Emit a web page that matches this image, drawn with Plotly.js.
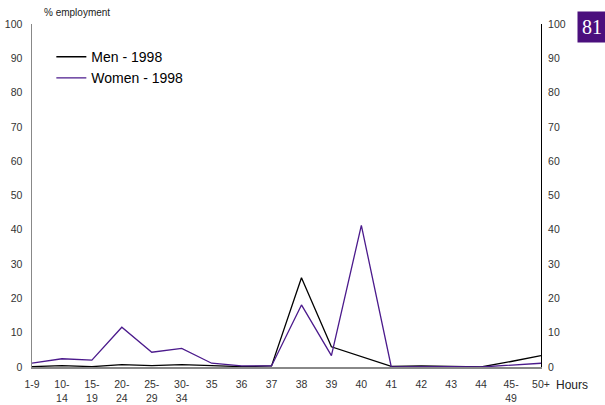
<!DOCTYPE html>
<html><head><meta charset="utf-8">
<script src="https://cdn.plot.ly/plotly-3.0.1.min.js"></script>
<style>html,body{margin:0;padding:0;background:#fff}#chart{width:605px;height:405px}</style>
</head><body><div id="chart"></div>
<script>
const categories = ["1-9","10-14","15-19","20-24","25-29","30-34","35","36","37","38","39","40","41","42","43","44","45-49","50+"];
const tickLabels = ["1-9","10-<br>14","15-<br>19","20-<br>24","25-<br>29","30-<br>34","35","36","37","38","39","40","41","42","43","44","45-<br>49","50+"];
const men1998 =   [0.1,0.4,0.1,0.7,0.4,0.7,0.4,0.1,0.3,26,5.9,3.0,0.2,0.3,0.2,0.0,1.6,3.3];
const women1998 = [1.1,2.4,2.0,11.6,4.3,5.4,1.1,0.3,0.3,18.1,3.3,41.3,0.0,0.1,0.1,0.0,0.6,1.1];
const yTicks = [0,10,20,30,40,50,60,70,80,90,100];

const idx = categories.map((c,i)=>i);
const tickFont = {family:"Liberation Sans Narrow, Liberation Sans, Arial, sans-serif", size:10.5, color:"#333"};

const traces = [
  {x: idx, y: men1998, name: "Men - 1998", type: "scatter", mode: "lines", line: {color: "#000000", width: 1.3}},
  {x: idx, y: women1998, name: "Women - 1998", type: "scatter", mode: "lines", line: {color: "#4b1a8c", width: 1.3}},
  {x: idx, y: women1998, yaxis: "y2", type: "scatter", mode: "lines", line: {color: "rgba(0,0,0,0)"}, showlegend: false, hoverinfo: "skip"}
];

const layout = {
  width: 605, height: 405,
  margin: {l: 32, r: 64, t: 24, b: 38},
  paper_bgcolor: "#fff", plot_bgcolor: "#fff",
  showlegend: true,
  legend: {x: 0.038, y: 0.95, xanchor: "left", yanchor: "top", bgcolor: "rgba(0,0,0,0)",
    font: {family: "Liberation Sans Narrow, Liberation Sans, Arial, sans-serif", size: 14, color: "#000"},
    tracegroupgap: 0, itemwidth: 30},
  xaxis: {
    range: [0, 17], tickmode: "array", tickvals: idx, ticktext: tickLabels,
    showgrid: false, zeroline: false, showline: true, linecolor: "#888", linewidth: 1.5,
    ticks: "outside", ticklen: 7, tickcolor: "rgba(0,0,0,0)",
    tickfont: {family:"Liberation Sans Narrow, Liberation Sans, Arial, sans-serif", size: 10.5, color: "#333"},
    fixedrange: true
  },
  yaxis: {
    range: [0, 100], tickmode: "array", tickvals: yTicks,
    showgrid: false, zeroline: false, showline: true, linecolor: "#888", linewidth: 1.5,
    ticks: "outside", ticklen: 6, tickcolor: "rgba(0,0,0,0)", tickfont: tickFont
  },
  yaxis2: {
    range: [0, 100], tickmode: "array", tickvals: yTicks, overlaying: "y", side: "right",
    showgrid: false, zeroline: false, showline: true, linecolor: "#000", linewidth: 1,
    ticks: "outside", ticklen: 4, tickcolor: "rgba(0,0,0,0)", tickfont: tickFont
  },
  annotations: [
    {text: "% employment", xref: "paper", yref: "paper", x: 0.02, y: 1, yshift: 12, xanchor: "left", yanchor: "middle", showarrow: false,
     font: {family: "Liberation Sans Narrow, Liberation Sans, Arial, sans-serif", size: 10, color: "#222"}},
    {text: "Hours", xref: "paper", yref: "paper", x: 1.0, xshift: 13, y: 0, yshift: -18, xanchor: "left", yanchor: "middle", showarrow: false,
     font: {family: "Liberation Sans, Arial, sans-serif", size: 12, color: "#222"}},
    {text: "81", xref: "paper", yref: "paper", x: 1, xshift: 36, y: 1, yshift: -3, xanchor: "left", yanchor: "middle", showarrow: false,
     bgcolor: "#4b0f7d", width: 28, height: 30, borderpad: 0,
     font: {family: "Liberation Serif, DejaVu Serif, serif", size: 20, color: "#fff"}}
  ]
};

Plotly.newPlot("chart", traces, layout, {displayModeBar: false, staticPlot: true});
</script>
</body></html>
